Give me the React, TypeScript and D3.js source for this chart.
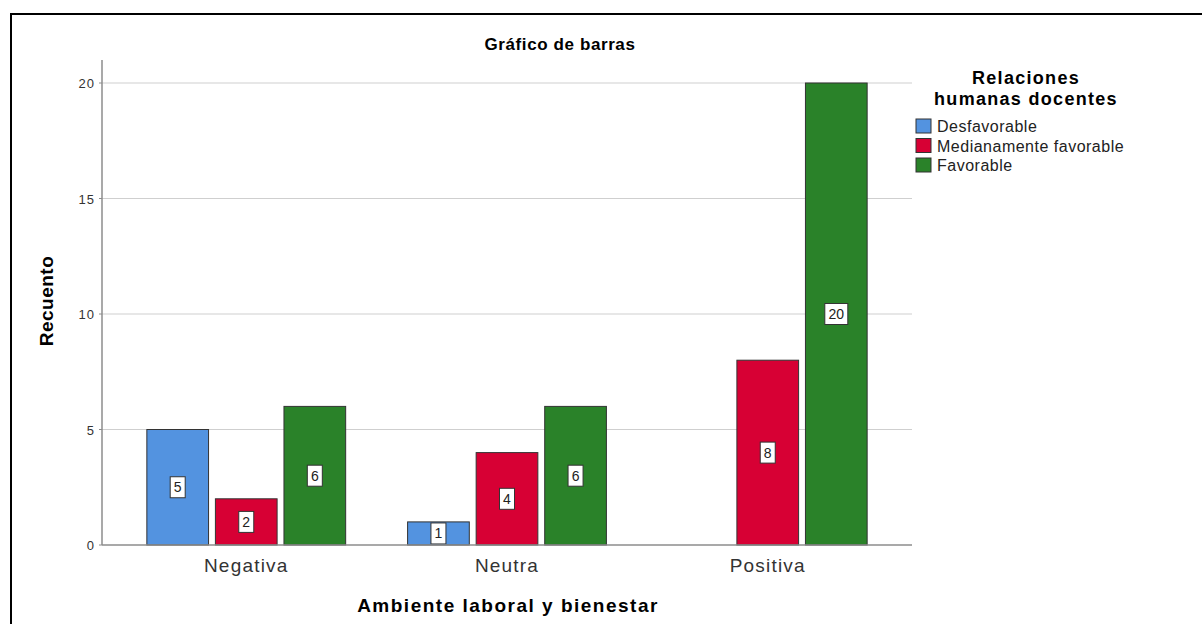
import { useEffect, useRef } from 'react';
import * as d3 from 'd3';

const categories = ['Negativa', 'Neutra', 'Positiva'];
const seriesNames = ['Desfavorable', 'Medianamente favorable', 'Favorable'];
const seriesColors = ['#5393e0', '#d70034', '#2a8229'];
const desfavorable = [5, 1, 0];
const medianamente = [2, 4, 8];
const favorable = [6, 6, 20];
const yTicks = [0, 5, 10, 15, 20];

export default function App() {
  const ref = useRef<SVGSVGElement | null>(null);

  useEffect(() => {
    const svg = d3.select(ref.current);
    svg.selectAll('*').remove();
    const font = 'Liberation Sans, Arial, sans-serif';

    const values = [desfavorable, medianamente, favorable];
    const rows = categories.map((c, i) => ({
      cat: c,
      vals: seriesNames.map((s, j) => ({ name: s, idx: j, v: values[j][i] })),
    }));

    // page frame
    svg.append('path')
      .attr('d', 'M11,625 L11,14 L1203,14')
      .attr('fill', 'none')
      .attr('stroke', '#000')
      .attr('stroke-width', 2);

    const left = 102, right = 912, top = 60, bottom = 545;

    const x0 = d3.scaleBand().domain(categories).range([left, right])
      .paddingInner(0.2375).paddingOuter(0.172);
    const x1 = d3.scaleBand().domain(seriesNames).range([0, x0.bandwidth()]).paddingInner(0.1);
    const y = d3.scaleLinear().domain([0, 20]).range([bottom, 83]);

    // gridlines
    svg.append('g').selectAll('line').data(yTicks.slice(1)).join('line')
      .attr('x1', left).attr('x2', right)
      .attr('y1', d => y(d)).attr('y2', d => y(d))
      .attr('stroke', '#cfcfcf').attr('stroke-width', 1);

    // y axis
    svg.append('line').attr('x1', left).attr('x2', left).attr('y1', top).attr('y2', bottom)
      .attr('stroke', '#8c8c8c').attr('stroke-width', 1.5);
    svg.append('g').selectAll('text').data(yTicks).join('text')
      .attr('x', left - 7).attr('y', d => y(d) + 5)
      .attr('text-anchor', 'end')
      .attr('font-family', font).attr('font-size', 13).attr('letter-spacing', 1).attr('fill', '#333')
      .text(d => d);
    svg.append('g').selectAll('line').data(yTicks).join('line')
      .attr('x1', left - 3).attr('x2', left).attr('y1', d => y(d)).attr('y2', d => y(d))
      .attr('stroke', '#8c8c8c');

    // bars
    const g = svg.append('g').selectAll('g').data(rows).join('g')
      .attr('transform', d => `translate(${x0(d.cat)},0)`);
    g.selectAll('rect').data(d => d.vals.filter(v => v.v > 0)).join('rect')
      .attr('x', d => x1(d.name)!)
      .attr('y', d => y(d.v))
      .attr('width', x1.bandwidth())
      .attr('height', d => y(0) - y(d.v))
      .attr('fill', d => seriesColors[d.idx])
      .attr('stroke', '#333').attr('stroke-width', 1);

    const lab = g.selectAll('g.lab').data(d => d.vals.filter(v => v.v > 0)).join('g')
      .attr('class', 'lab')
      .attr('transform', d => `translate(${x1(d.name)! + x1.bandwidth() / 2},${y(d.v / 2)})`);
    lab.append('rect')
      .attr('x', d => (String(d.v).length > 1 ? -11.5 : -7.5))
      .attr('y', -10.5)
      .attr('width', d => (String(d.v).length > 1 ? 23 : 15))
      .attr('height', 21)
      .attr('fill', '#fff').attr('stroke', '#333').attr('stroke-width', 1);
    lab.append('text')
      .attr('y', 5).attr('text-anchor', 'middle')
      .attr('font-family', font).attr('font-size', 14).attr('fill', '#222')
      .text(d => d.v);

    // x axis
    svg.append('line').attr('x1', left).attr('x2', right).attr('y1', bottom).attr('y2', bottom)
      .attr('stroke', '#8c8c8c').attr('stroke-width', 1.5);
    svg.append('g').selectAll('text').data(categories).join('text')
      .attr('x', d => x0(d)! + x0.bandwidth() / 2).attr('y', bottom + 27)
      .attr('text-anchor', 'middle')
      .attr('font-family', font).attr('font-size', 19).attr('letter-spacing', 1.2).attr('fill', '#333')
      .text(d => d);

    // titles
    svg.append('text').attr('x', 560).attr('y', 50).attr('text-anchor', 'middle')
      .attr('font-family', font).attr('font-size', 17).attr('font-weight', 'bold').attr('letter-spacing', 0.6)
      .text('Gráfico de barras');
    svg.append('text').attr('x', 508).attr('y', 612).attr('text-anchor', 'middle')
      .attr('font-family', font).attr('font-size', 19).attr('font-weight', 'bold').attr('letter-spacing', 1.5)
      .text('Ambiente laboral y bienestar');
    svg.append('text').attr('transform', 'translate(53,301) rotate(-90)')
      .attr('text-anchor', 'middle')
      .attr('font-family', font).attr('font-size', 19).attr('font-weight', 'bold').attr('letter-spacing', 0.5)
      .text('Recuento');

    // legend
    const lg = svg.append('g');
    lg.append('text').attr('x', 1026).attr('y', 84).attr('text-anchor', 'middle')
      .attr('font-family', font).attr('font-size', 18).attr('font-weight', 'bold').attr('letter-spacing', 1.3)
      .text('Relaciones');
    lg.append('text').attr('x', 1026).attr('y', 105).attr('text-anchor', 'middle')
      .attr('font-family', font).attr('font-size', 18).attr('font-weight', 'bold').attr('letter-spacing', 1.3)
      .text('humanas docentes');
    const items = lg.selectAll('g.it').data(seriesNames).join('g')
      .attr('class', 'it')
      .attr('transform', (_d, i) => `translate(916,${119 + i * 19.5})`);
    items.append('rect').attr('width', 15).attr('height', 14)
      .attr('fill', (_d, i) => seriesColors[i]).attr('stroke', '#333');
    items.append('text').attr('x', 21).attr('y', 13)
      .attr('font-family', font).attr('font-size', 16).attr('letter-spacing', 0.5).attr('fill', '#222')
      .text(d => d);
  }, []);

  return <svg ref={ref} width={1202} height={624} style={{ position: 'absolute', left: 0, top: 0 }} />;
}
